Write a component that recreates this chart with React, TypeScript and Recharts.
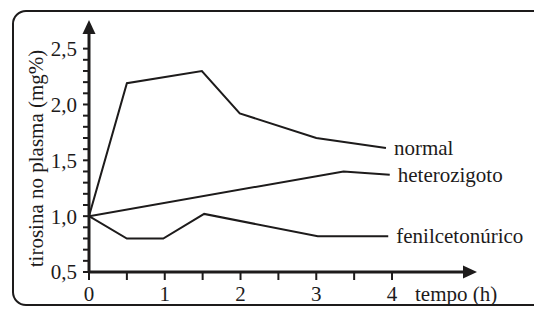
import * as React from 'react';
import { LineChart, Line, XAxis, YAxis } from 'recharts';

document.body.style.margin = '0';

const FONT = 'Liberation Serif';
const INK = '#1d1b1b';

// tempo (h) e tirosina (mg%)
const normalTempo = [0, 0.5, 1.49, 1.99, 3.0, 3.92];
const normalTirosina = [1.0, 2.19, 2.3, 1.92, 1.7, 1.61];

const heteroTempo = [0, 3.36, 3.97];
const heteroTirosina = [1.0, 1.4, 1.37];

const fenilTempo = [0, 0.5, 0.98, 1.52, 3.02, 3.95];
const fenilTirosina = [1.0, 0.8, 0.8, 1.02, 0.82, 0.82];

const xTicks = [0, 0.5, 1, 1.5, 2, 2.5, 3, 3.5, 4];
const yTicks = [
  0.5, 0.6, 0.7, 0.8, 0.9, 1.0, 1.1, 1.2, 1.3, 1.4, 1.5, 1.6, 1.7, 1.8, 1.9,
  2.0, 2.1, 2.2, 2.3, 2.4, 2.5,
];
const yLabels = ['0,5', '1,0', '1,5', '2,0', '2,5'];
const xLabels = ['0', '1', '2', '3', '4'];

const toPoints = (t: number[], v: number[]) => t.map((x, i) => ({ t: x, v: v[i] }));

const series = [
  { name: 'normal', data: toPoints(normalTempo, normalTirosina) },
  { name: 'heterozigoto', data: toPoints(heteroTempo, heteroTirosina) },
  { name: 'fenilcetonúrico', data: toPoints(fenilTempo, fenilTirosina) },
];

const formatY = (value: number) => {
  const idx = Math.round((value - 0.5) * 10);
  return idx % 5 === 0 ? yLabels[idx / 5] : '';
};

const formatX = (value: number) =>
  Number.isInteger(value) ? xLabels[value] : '';

const textProps = { fontFamily: FONT, fontSize: 21, fill: INK };

function YTitle(props: any) {
  const { viewBox } = props;
  const cx = viewBox.x + 36;
  const cy = viewBox.y + viewBox.height / 2 + 6;
  return (
    <text
      x={cx}
      y={cy}
      transform={`rotate(-90 ${cx} ${cy})`}
      textAnchor="middle"
      dominantBaseline="central"
      {...textProps}
    >
      tirosina no plasma (mg%)
    </text>
  );
}

function XTitle(props: any) {
  const { viewBox } = props;
  return (
    <text x={415} y={viewBox.y + 22} dominantBaseline="central" {...textProps}>
      tempo (h)
    </text>
  );
}

export default function App() {
  return (
    <div style={{ position: 'relative', width: 534, height: 309, background: '#fff', overflow: 'hidden', fontFamily: FONT }}>
      <svg width={534} height={309} style={{ position: 'absolute', left: 0, top: 0 }}>
        <rect x={13} y={11} width={560} height={294} rx={13} fill="none" stroke={INK} strokeWidth={2} />
      </svg>
      <div style={{ position: 'absolute', left: 0, top: 0 }}>
        <LineChart width={534} height={309} margin={{ top: 33, right: 70, bottom: 0, left: 0 }}>
          <XAxis
            type="number"
            dataKey="t"
            domain={[0, 4.95]}
            ticks={xTicks}
            tickFormatter={formatX}
            height={37}
            tickSize={8}
            tickMargin={6}
            interval={0}
            allowDataOverflow
            axisLine={{ stroke: INK, strokeWidth: 3 }}
            tickLine={{ stroke: INK, strokeWidth: 2 }}
            tick={{ ...textProps }}
            label={<XTitle />}
          />
          <YAxis
            type="number"
            dataKey="v"
            domain={[0.5, 2.64]}
            ticks={yTicks}
            tickFormatter={formatY}
            width={89}
            tickSize={6}
            tickMargin={6}
            interval={0}
            allowDataOverflow
            axisLine={{ stroke: INK, strokeWidth: 3 }}
            tickLine={{ stroke: INK, strokeWidth: 2 }}
            tick={{ ...textProps }}
            label={<YTitle />}
          />
          {series.map((s) => (
            <Line
              key={s.name}
              data={s.data}
              dataKey="v"
              type="linear"
              stroke={INK}
              strokeWidth={2}
              dot={false}
              isAnimationActive={false}
              label={(p: any) =>
                p.index === s.data.length - 1 ? (
                  <text
                    key={s.name}
                    x={p.x + 8}
                    y={p.y}
                    dominantBaseline="central"
                    {...textProps}
                  >
                    {s.name}
                  </text>
                ) : (
                  <g key={`${s.name}-${p.index}`} />
                )
              }
            />
          ))}
        </LineChart>
      </div>
      <svg width={534} height={309} style={{ position: 'absolute', left: 0, top: 0, pointerEvents: 'none' }}>
        <polygon points="89,20 82.5,34 95.5,34" fill={INK} />
        <polygon points="477,272 463,265.5 463,278.5" fill={INK} />
      </svg>
    </div>
  );
}
